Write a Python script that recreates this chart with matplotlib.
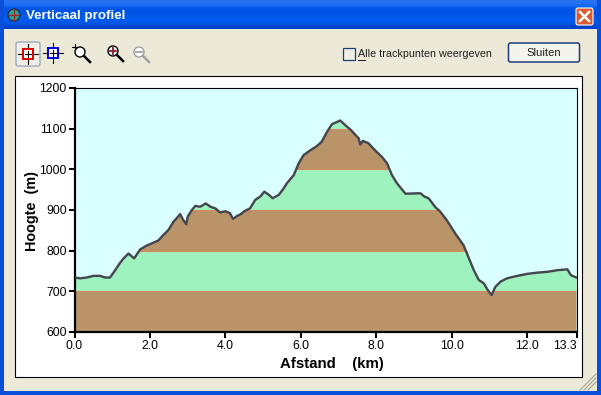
import numpy as np
import matplotlib
matplotlib.use('Agg')
import matplotlib.pyplot as plt
from matplotlib.patches import Rectangle, FancyBboxPatch, Circle

plt.rcParams['font.family'] = ['Liberation Sans', 'DejaVu Sans']

distance = [0.0, 0.15, 0.32, 0.5, 0.68, 0.81, 0.94, 1.07, 1.2, 1.3, 1.43, 1.58, 1.74, 1.9, 2.05,
            2.22, 2.36, 2.49, 2.62, 2.71, 2.8, 2.87, 2.96, 3.0, 3.11, 3.2, 3.33, 3.48, 3.6, 3.73,
            3.86, 4.0, 4.12, 4.2, 4.3, 4.39, 4.52, 4.65, 4.79, 4.92, 5.03, 5.14, 5.25, 5.41, 5.54,
            5.63, 5.81, 5.94, 6.07, 6.25, 6.42, 6.55, 6.69, 6.82, 7.04, 7.17, 7.32, 7.44, 7.53,
            7.57, 7.64, 7.79, 7.96, 8.14, 8.28, 8.41, 8.54, 8.77, 9.08, 9.17, 9.27, 9.38, 9.56,
            9.69, 9.87, 10.09, 10.31, 10.45, 10.58, 10.71, 10.84, 10.95, 11.05, 11.15, 11.29,
            11.46, 11.73, 12.0, 12.26, 12.53, 12.79, 13.06, 13.15, 13.24, 13.3]
height = [734, 732, 734, 738, 738, 734, 734, 751, 769, 781, 793, 781, 803, 812, 818,
          825, 839, 851, 871, 880, 890, 877, 865, 884, 900, 910, 908, 916, 908, 904,
          894, 897, 892, 878, 885, 889, 898, 904, 925, 933, 945, 938, 929, 937, 953,
          966, 986, 1015, 1035, 1047, 1057, 1068, 1092, 1111, 1120, 1109, 1097, 1085, 1076,
          1061, 1070, 1064, 1047, 1031, 1015, 986, 966, 940, 941, 941, 933, 929, 907,
          896, 874, 842, 813, 781, 752, 728, 720, 703, 691, 711, 724,
          732, 738, 743, 746, 748, 752, 754, 740, 736, 734]
band_edges = [600, 700, 800, 900, 1000, 1100, 1200]
band_colors = ['#B89468', '#9DF2BE', '#B89468', '#9DF2BE', '#B89468', '#9DF2BE']
x_ticks = [0, 2, 4, 6, 8, 10, 12, 13.3]
x_labels = ['0.0', '2.0', '4.0', '6.0', '8.0', '10.0', '12.0', '13.3']
y_ticks = [600, 700, 800, 900, 1000, 1100, 1200]

W, H = 601, 395
fig = plt.figure(figsize=(W / 100, H / 100), dpi=100, facecolor='#ECE9D8')

# window chrome, in pixel coordinates
ui = fig.add_axes([0, 0, 1, 1], zorder=0)
ui.set_xlim(0, W)
ui.set_ylim(H, 0)
ui.axis('off')

grad = np.array([[0.16, 0.45, 0.95], [0.10, 0.42, 0.95], [0.0, 0.33, 0.90], [0.0, 0.33, 0.90],
                 [0.0, 0.35, 0.93], [0.0, 0.36, 0.95], [0.0, 0.33, 0.90], [0.0, 0.26, 0.80]])
ui.imshow(grad[:, None, :], extent=(0, W, 29, 0), aspect='auto', zorder=1, interpolation='bilinear')
ui.set_xlim(0, W)
ui.set_ylim(H, 0)
for r in [(0, 0, 4, H), (597, 0, 4, H), (0, 391, W, 4)]:
    ui.add_patch(Rectangle(r[:2], r[2], r[3], fc='#0A4FDC', ec='none', zorder=2))
ui.add_patch(Rectangle((15, 76), 567, 301, fc='white', ec='black', lw=0.8, zorder=2))

ui.add_patch(Circle((14, 15), 6, fc='#1FA8A0', ec='#202020', lw=0.8, zorder=3))
ui.plot([9, 19], [15, 15], color='#B02020', lw=1, zorder=4)
ui.plot([14, 14], [10, 20], color='#B02020', lw=1, zorder=4)
ui.text(26, 15.5, 'Verticaal profiel', color='white', fontsize=9.6, fontweight='bold',
        va='center', ha='left', zorder=3)

# close button
ui.add_patch(FancyBboxPatch((576, 8), 17, 17, boxstyle='round,pad=0,rounding_size=2',
                            fc='#DC5A32', ec='white', lw=0.8, zorder=3))
ui.plot([580, 589], [12, 21], color='white', lw=1.8, zorder=4)
ui.plot([589, 580], [12, 21], color='white', lw=1.8, zorder=4)


def target(cx, cy, col):
    ui.plot([cx - 10, cx + 10], [cy, cy], color='black', lw=0.8, zorder=4)
    ui.plot([cx, cx], [cy - 10, cy + 10], color='black', lw=0.8, zorder=4)
    ui.add_patch(Rectangle((cx - 5, cy - 5), 10, 10, fc='white', ec=col, lw=1.4, zorder=5))
    ui.plot([cx - 3, cx + 3], [cy, cy], color='black', lw=0.8, zorder=6)
    ui.plot([cx, cx], [cy - 3, cy + 3], color='black', lw=0.8, zorder=6)


def magnifier(cx, cy, col, handle, sign=None, signcol='black'):
    ui.add_patch(Circle((cx, cy), 5, fc='white', ec=col, lw=1, zorder=5))
    ui.plot([cx + 4, cx + 10], [cy + 4, cy + 10], color=handle, lw=1.8, zorder=5)
    if sign:
        ui.plot([cx - 3, cx + 3], [cy, cy], color=signcol, lw=1.3, zorder=6)
    if sign == '+':
        ui.plot([cx, cx], [cy - 3, cy + 3], color=signcol, lw=1.3, zorder=6)


ui.add_patch(FancyBboxPatch((16, 42), 24, 24, boxstyle='round,pad=0,rounding_size=2',
                            fc='#F2F0E6', ec='#8A9AB5', lw=0.8, zorder=3))
target(28, 54, '#E00000')
target(53, 53, '#0000E0')
magnifier(80, 52, 'black', 'black')
ui.plot([72, 78], [47, 47], color='black', lw=0.8, zorder=6)
ui.plot([75, 75], [44, 50], color='black', lw=0.8, zorder=6)
magnifier(113, 51, 'black', 'black', '+', '#8B1A2B')
magnifier(139, 52, '#A0A0A0', '#A0A0A0', '-', '#A0A0A0')

# checkbox and button
ui.add_patch(Rectangle((342.5, 47.5), 12, 12, fc='#EEEDE5', ec='#1C3F7C', lw=0.9, zorder=3))
ui.text(358, 54, 'Alle trackpunten weergeven', fontsize=7.75, color='#202020', va='center', ha='left', zorder=3)
ui.plot([358, 365], [59.5, 59.5], color='#202020', lw=0.7, zorder=3)
ui.add_patch(FancyBboxPatch((508.5, 43), 71, 19, boxstyle='round,pad=0,rounding_size=2',
                            fc='#F5F4EC', ec='#1C3F7C', lw=1.1, zorder=3))
ui.text(543.5, 53, 'Sluiten', fontsize=8.1, color='#202020', va='center', ha='center', zorder=4)

# resize grip
for d in (0, 4, 8):
    ui.plot([596 - d - 8, 596], [390, 382 - d], color='#A8A593', lw=0.8, zorder=3)

# the profile
x0, x1, y_top, y_bot = 74.5, 576.5, 88, 332
ax = fig.add_axes([x0 / W, 1 - y_bot / H, (x1 - x0) / W, (y_bot - y_top) / H], zorder=1)
ax.set_facecolor('#D9FFFF')
ax.set_xlim(0, 13.3)
ax.set_ylim(600, 1200)

profile = ax.fill_between(distance, height, 600, color='none', lw=0)
for low, high, col in zip(band_edges[:-1], band_edges[1:], band_colors):
    band = ax.axhspan(low, high, color=col, lw=0, zorder=1)
    band.set_clip_path(profile.get_paths()[0], ax.transData)
    if low > 600:
        edge = ax.axhline(low, color='#D98A60', lw=0.8, zorder=1.5)
        edge.set_clip_path(profile.get_paths()[0], ax.transData)
ax.plot(distance, height, color='#45454F', lw=1.7, zorder=3)

ax.set_xticks(x_ticks)
ax.set_xticklabels(x_labels)
ax.set_yticks(y_ticks)
ax.tick_params(axis='both', length=4, width=1.4, labelsize=8.8, pad=1.5, color='black')
# the last label sits left of its tick
ax.get_xticklabels()[-1].set_ha('right')
for side in ('left', 'bottom'):
    ax.spines[side].set_linewidth(1.6)
for side in ('top', 'right'):
    ax.spines[side].set_linewidth(0.8)
ax.set_xlabel('Afstand    (km)', fontsize=10.8, fontweight='bold', va='center')
ax.xaxis.set_label_coords(0.513, -0.131)
ax.set_ylabel('Hoogte  (m)', fontsize=10.4, fontweight='bold', va='center')
ax.yaxis.set_label_coords(-0.0846, 0.495)

fig.savefig('out.png', dpi=100, facecolor=fig.get_facecolor())
